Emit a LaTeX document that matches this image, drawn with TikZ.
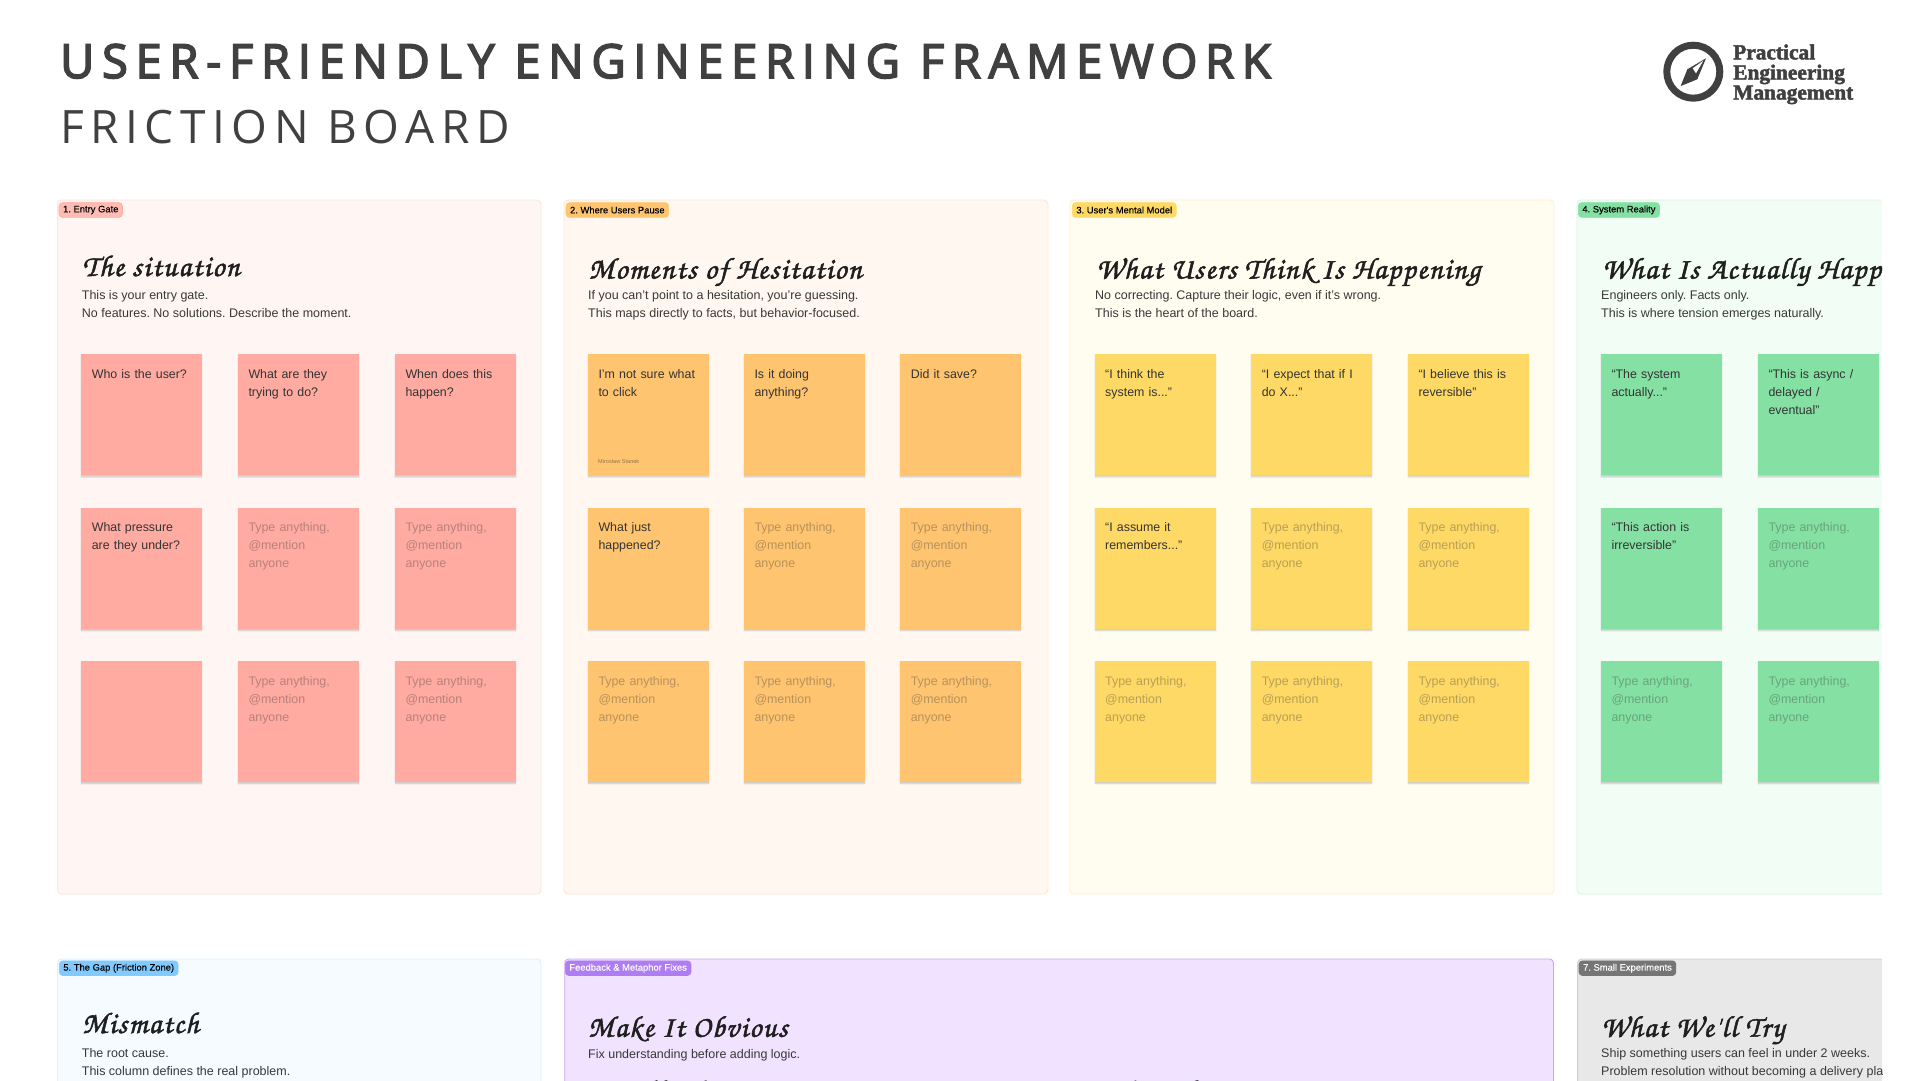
\documentclass[tikz,border=0pt]{standalone}
\usepackage{fontspec}
\usepackage{xcolor}
\usetikzlibrary{positioning,shadows}
\setmainfont{Liberation Sans}
\newfontfamily\boardfont[LetterSpace=16.4,FakeBold=3.5]{Open Sans}
\newfontfamily\boardsubfont[LetterSpace=14.3]{Open Sans}
\newfontfamily\tagfont[FakeBold=0.15]{Liberation Sans}
\newfontfamily\handfont[FakeBold=1.8,LetterSpace=5]{TeX Gyre Chorus}
\newfontfamily\logofont[FakeBold=2.2]{Liberation Serif}
\definecolor{inkgrey}{HTML}{404040}
\definecolor{redpanel}{HTML}{FFF6F4}
\definecolor{redline}{HTML}{FFE3DF}
\definecolor{rednote}{HTML}{FFABA1}
\definecolor{orangepanel}{HTML}{FFF7F0}
\definecolor{orangeline}{HTML}{FFE9D0}
\definecolor{orangenote}{HTML}{FFC470}
\definecolor{yellowpanel}{HTML}{FFFCF0}
\definecolor{yellowline}{HTML}{FFF0CC}
\definecolor{yellownote}{HTML}{FFD966}
\definecolor{greenpanel}{HTML}{F2FDF5}
\definecolor{greenline}{HTML}{D5F7E0}
\definecolor{greennote}{HTML}{85E0A3}
\definecolor{bluepanel}{HTML}{F5FBFF}
\definecolor{blueline}{HTML}{DCEFFF}
\definecolor{bluetag}{HTML}{80CAFF}
\definecolor{purplepanel}{HTML}{F1E2FF}
\definecolor{purpleline}{HTML}{C9A5F7}
\definecolor{purpletag}{HTML}{AF7DF2}
\definecolor{greypanel}{HTML}{E8E8E8}
\definecolor{greyline}{HTML}{CFCFCF}
\definecolor{greytag}{HTML}{757575}
\frenchspacing
\tikzset{
  panel/.style={rounded corners=4pt, line width=0.9pt},
  sticky/.style={draw=none,
    drop shadow={shadow xshift=0pt, shadow yshift=-1.5pt, shadow scale=1.015, opacity=0.04, fill=black},
    drop shadow={shadow xshift=0pt, shadow yshift=-3pt, opacity=0.04, fill=black},
    drop shadow={shadow xshift=0pt, shadow yshift=-2pt, opacity=0.05, fill=black},
    drop shadow={shadow xshift=0pt, shadow yshift=-1pt, opacity=0.05, fill=black}},
  notetext/.style={anchor=north west, inner sep=0pt, xshift=10.3pt, yshift=-14pt, text width=108pt, align=left,
    text=black!80, font=\fontsize{12.4}{18}\selectfont, execute at begin node={\rule{0pt}{10pt}}},
  ghosttext/.style={notetext, text opacity=0.35},
  tagbox/.style={anchor=north west, rounded corners=3.5pt, inner xsep=4pt, inner ysep=0pt, minimum height=14.7pt,
    font=\tagfont\fontsize{9.4}{10}\selectfont, line width=0.7pt},
  heading/.style={anchor=base west, inner sep=0pt, text=black!88, font=\handfont\fontsize{30}{30}\selectfont},
  blurb/.style={anchor=north west, inner sep=0pt, align=left, text=black!78, font=\fontsize{12.5}{18}\selectfont,
    execute at begin node={\rule{0pt}{10pt}}},
}
\begin{document}
\begin{tikzpicture}[x=1pt,y=1pt]
\useasboundingbox (0,0) rectangle (1920,-1080);
\fill[white] (0,0) rectangle (1920,-1080);

%Board title
\node[anchor=base west, inner sep=0pt, text=inkgrey, font=\boardfont\fontsize{47}{47}\selectfont] (boardtitle) at (60,-78) {USER-FRIENDLY ENGINEERING FRAMEWORK};
\node[anchor=base west, inner sep=0pt, text=inkgrey, font=\boardsubfont\fontsize{46}{46}\selectfont] (boardsub) at (60,-143) {FRICTION BOARD};

%Logo
\draw[inkgrey, line width=7pt] (1693.3,-71.7) circle (26.5);
\fill[inkgrey] (1706,-58.3) -- (1687.3,-69.3) -- (1680.7,-86) -- (1697.3,-79.3) -- cycle;
\fill[white] (1692.7,-68.3) -- (1703.3,-60.7) -- (1696,-73.3) -- cycle;
\node[anchor=base west, inner sep=0pt, text=inkgrey, align=left, font=\logofont\bfseries\fontsize{21.4}{20}\selectfont] (logoa) at (1733,-59.3) {Practical};
\node[anchor=base west, inner sep=0pt, text=inkgrey, align=left, font=\logofont\bfseries\fontsize{21.4}{20}\selectfont] (logob) at (1733,-79.5) {Engineering};
\node[anchor=base west, inner sep=0pt, text=inkgrey, align=left, font=\logofont\bfseries\fontsize{21.4}{20}\selectfont] (logoc) at (1733,-99.5) {Management};

\begin{scope}
\clip (0,0) rectangle (1882,-1080);

%Panel 1
\filldraw[panel, fill=redpanel, draw=redline] (57.5,-200) rectangle (541,-894);
\node[tagbox, fill=rednote!80, draw=rednote] (tag1) at (58.7,-202.3) {1. Entry Gate};
\node[heading] (head1) at (82.5,-276) {The situation};
\node[blurb] (blurb1) at (81.7,-290) {This is your entry gate.\\No features. No solutions. Describe the moment.};

%Panel 2
\filldraw[panel, fill=orangepanel, draw=orangeline] (564,-200) rectangle (1048,-894);
\node[tagbox, fill=orangenote, draw=orangenote] (tag2) at (565.7,-202.3) {2. Where Users Pause};
\node[heading] (head2) at (588.5,-278.5) {Moments of Hesitation};
\node[blurb] (blurb2) at (588,-290) {If you can't point to a hesitation, you're guessing.\\This maps directly to facts, but behavior-focused.};

%Panel 3
\filldraw[panel, fill=yellowpanel, draw=yellowline] (1070,-200) rectangle (1554,-894);
\node[tagbox, fill=yellownote, draw=yellownote] (tag3) at (1072,-202.3) {3. User's Mental Model};
\node[heading] (head3) at (1096,-278.5) {What Users Think Is Happening};
\node[blurb] (blurb3) at (1095,-290) {No correcting. Capture their logic, even if it's wrong.\\This is the heart of the board.};

%Panel 4
\filldraw[panel, fill=greenpanel, draw=greenline] (1577,-200) rectangle (1900,-894);
\node[tagbox, fill=greennote, draw=greennote] (tag4) at (1578,-202.3) {4. System Reality};
\node[heading] (head4) at (1602,-278.5) {What Is Actually Happening};
\node[blurb] (blurb4) at (1601,-290) {Engineers only. Facts only.\\This is where tension emerges naturally.};

%Panel 5
\filldraw[panel, fill=bluepanel, draw=blueline] (57.5,-959) rectangle (541,-1100);
\node[tagbox, fill=bluetag, draw=bluetag] (tag5) at (59,-960.5) {5. The Gap (Friction Zone)};
\node[heading] (head5) at (82,-1033) {Mismatch};
\node[blurb] (blurb5) at (81.7,-1048.5) {The root cause.\\This column defines the real problem.};

%Panel 6
\filldraw[panel, fill=purplepanel, draw=purpleline] (564.7,-959) rectangle (1553.5,-1100);
\node[tagbox, fill=purpletag, draw=purpletag, text=white] (tag6) at (565,-960.5) {Feedback \& Metaphor Fixes};
\node[heading] (head6) at (588,-1036.7) {Make It Obvious};
\node[blurb] (blurb6) at (588,-1048.5) {Fix understanding before adding logic.};
\node[heading] (head6a) at (596,-1101) {Feedback};
\node[heading] (head6b) at (1106,-1101) {Metaphor};

%Panel 7
\filldraw[panel, fill=greypanel, draw=greyline] (1577.6,-959) rectangle (1900,-1100);
\node[tagbox, fill=greytag, draw=greytag, text=white] (tag7) at (1578.7,-960.5) {7. Small Experiments};
\node[heading] (head7) at (1601,-1036.7) {What We'll Try};
\node[blurb] (blurb7) at (1601,-1048.5) {Ship something users can feel in under 2 weeks.\\Problem resolution without becoming a delivery plan};

%Entry notes
\filldraw[sticky, fill=rednote] (81.3,-354.3) rectangle (202.3,-475.3);
\node[notetext] (entry1) at (81.3,-354.3) {Who is the user?};
\filldraw[sticky, fill=rednote] (238,-354.3) rectangle (359,-475.3);
\node[notetext] (entry2) at (238,-354.3) {What are they\\trying to do?};
\filldraw[sticky, fill=rednote] (395,-354.3) rectangle (516,-475.3);
\node[notetext] (entry3) at (395,-354.3) {When does this\\happen?};
\filldraw[sticky, fill=rednote] (81.3,-507.7) rectangle (202.3,-628.7);
\node[notetext] (entry4) at (81.3,-507.7) {What pressure\\are they under?};
\filldraw[sticky, fill=rednote] (238,-507.7) rectangle (359,-628.7);
\node[ghosttext] (entry5) at (238,-507.7) {Type anything,\\@mention\\anyone};
\filldraw[sticky, fill=rednote] (395,-507.7) rectangle (516,-628.7);
\node[ghosttext] (entry6) at (395,-507.7) {Type anything,\\@mention\\anyone};
\filldraw[sticky, fill=rednote] (81.3,-661) rectangle (202.3,-782);
\filldraw[sticky, fill=rednote] (238,-661) rectangle (359,-782);
\node[ghosttext] (entry8) at (238,-661) {Type anything,\\@mention\\anyone};
\filldraw[sticky, fill=rednote] (395,-661) rectangle (516,-782);
\node[ghosttext] (entry9) at (395,-661) {Type anything,\\@mention\\anyone};

%Pause notes
\filldraw[sticky, fill=orangenote] (588,-354.3) rectangle (709,-475.3);
\node[notetext] (pause1) at (588,-354.3) {I'm not sure what\\to click};
\node[anchor=base west, inner sep=0pt, text=black, text opacity=0.4, font=\fontsize{5.6}{6}\selectfont] (pause1by) at (598,-463.3) {Miroslaw Stanek};
\filldraw[sticky, fill=orangenote] (744,-354.3) rectangle (865,-475.3);
\node[notetext] (pause2) at (744,-354.3) {Is it doing\\anything?};
\filldraw[sticky, fill=orangenote] (900.3,-354.3) rectangle (1021.3,-475.3);
\node[notetext] (pause3) at (900.3,-354.3) {Did it save?};
\filldraw[sticky, fill=orangenote] (588,-507.7) rectangle (709,-628.7);
\node[notetext] (pause4) at (588,-507.7) {What just\\happened?};
\filldraw[sticky, fill=orangenote] (744,-507.7) rectangle (865,-628.7);
\node[ghosttext] (pause5) at (744,-507.7) {Type anything,\\@mention\\anyone};
\filldraw[sticky, fill=orangenote] (900.3,-507.7) rectangle (1021.3,-628.7);
\node[ghosttext] (pause6) at (900.3,-507.7) {Type anything,\\@mention\\anyone};
\filldraw[sticky, fill=orangenote] (588,-661) rectangle (709,-782);
\node[ghosttext] (pause7) at (588,-661) {Type anything,\\@mention\\anyone};
\filldraw[sticky, fill=orangenote] (744,-661) rectangle (865,-782);
\node[ghosttext] (pause8) at (744,-661) {Type anything,\\@mention\\anyone};
\filldraw[sticky, fill=orangenote] (900.3,-661) rectangle (1021.3,-782);
\node[ghosttext] (pause9) at (900.3,-661) {Type anything,\\@mention\\anyone};

%Model notes
\filldraw[sticky, fill=yellownote] (1094.7,-354.3) rectangle (1215.7,-475.3);
\node[notetext] (model1) at (1094.7,-354.3) {``I think the\\system is...''};
\filldraw[sticky, fill=yellownote] (1251.3,-354.3) rectangle (1372.3,-475.3);
\node[notetext] (model2) at (1251.3,-354.3) {``I expect that if I\\do X...''};
\filldraw[sticky, fill=yellownote] (1408,-354.3) rectangle (1529,-475.3);
\node[notetext] (model3) at (1408,-354.3) {``I believe this is\\reversible''};
\filldraw[sticky, fill=yellownote] (1094.7,-507.7) rectangle (1215.7,-628.7);
\node[notetext] (model4) at (1094.7,-507.7) {``I assume it\\remembers...''};
\filldraw[sticky, fill=yellownote] (1251.3,-507.7) rectangle (1372.3,-628.7);
\node[ghosttext] (model5) at (1251.3,-507.7) {Type anything,\\@mention\\anyone};
\filldraw[sticky, fill=yellownote] (1408,-507.7) rectangle (1529,-628.7);
\node[ghosttext] (model6) at (1408,-507.7) {Type anything,\\@mention\\anyone};
\filldraw[sticky, fill=yellownote] (1094.7,-661) rectangle (1215.7,-782);
\node[ghosttext] (model7) at (1094.7,-661) {Type anything,\\@mention\\anyone};
\filldraw[sticky, fill=yellownote] (1251.3,-661) rectangle (1372.3,-782);
\node[ghosttext] (model8) at (1251.3,-661) {Type anything,\\@mention\\anyone};
\filldraw[sticky, fill=yellownote] (1408,-661) rectangle (1529,-782);
\node[ghosttext] (model9) at (1408,-661) {Type anything,\\@mention\\anyone};

%Reality notes
\filldraw[sticky, fill=greennote] (1601,-354.3) rectangle (1722,-475.3);
\node[notetext] (real1) at (1601,-354.3) {``The system\\actually...''};
\filldraw[sticky, fill=greennote] (1758,-354.3) rectangle (1879,-475.3);
\node[notetext] (real2) at (1758,-354.3) {``This is async /\\delayed /\\eventual''};
\filldraw[sticky, fill=greennote] (1601,-507.7) rectangle (1722,-628.7);
\node[notetext] (real3) at (1601,-507.7) {``This action is\\irreversible''};
\filldraw[sticky, fill=greennote] (1758,-507.7) rectangle (1879,-628.7);
\node[ghosttext] (real4) at (1758,-507.7) {Type anything,\\@mention\\anyone};
\filldraw[sticky, fill=greennote] (1601,-661) rectangle (1722,-782);
\node[ghosttext] (real5) at (1601,-661) {Type anything,\\@mention\\anyone};
\filldraw[sticky, fill=greennote] (1758,-661) rectangle (1879,-782);
\node[ghosttext] (real6) at (1758,-661) {Type anything,\\@mention\\anyone};
\end{scope}
\end{tikzpicture}
\end{document}
